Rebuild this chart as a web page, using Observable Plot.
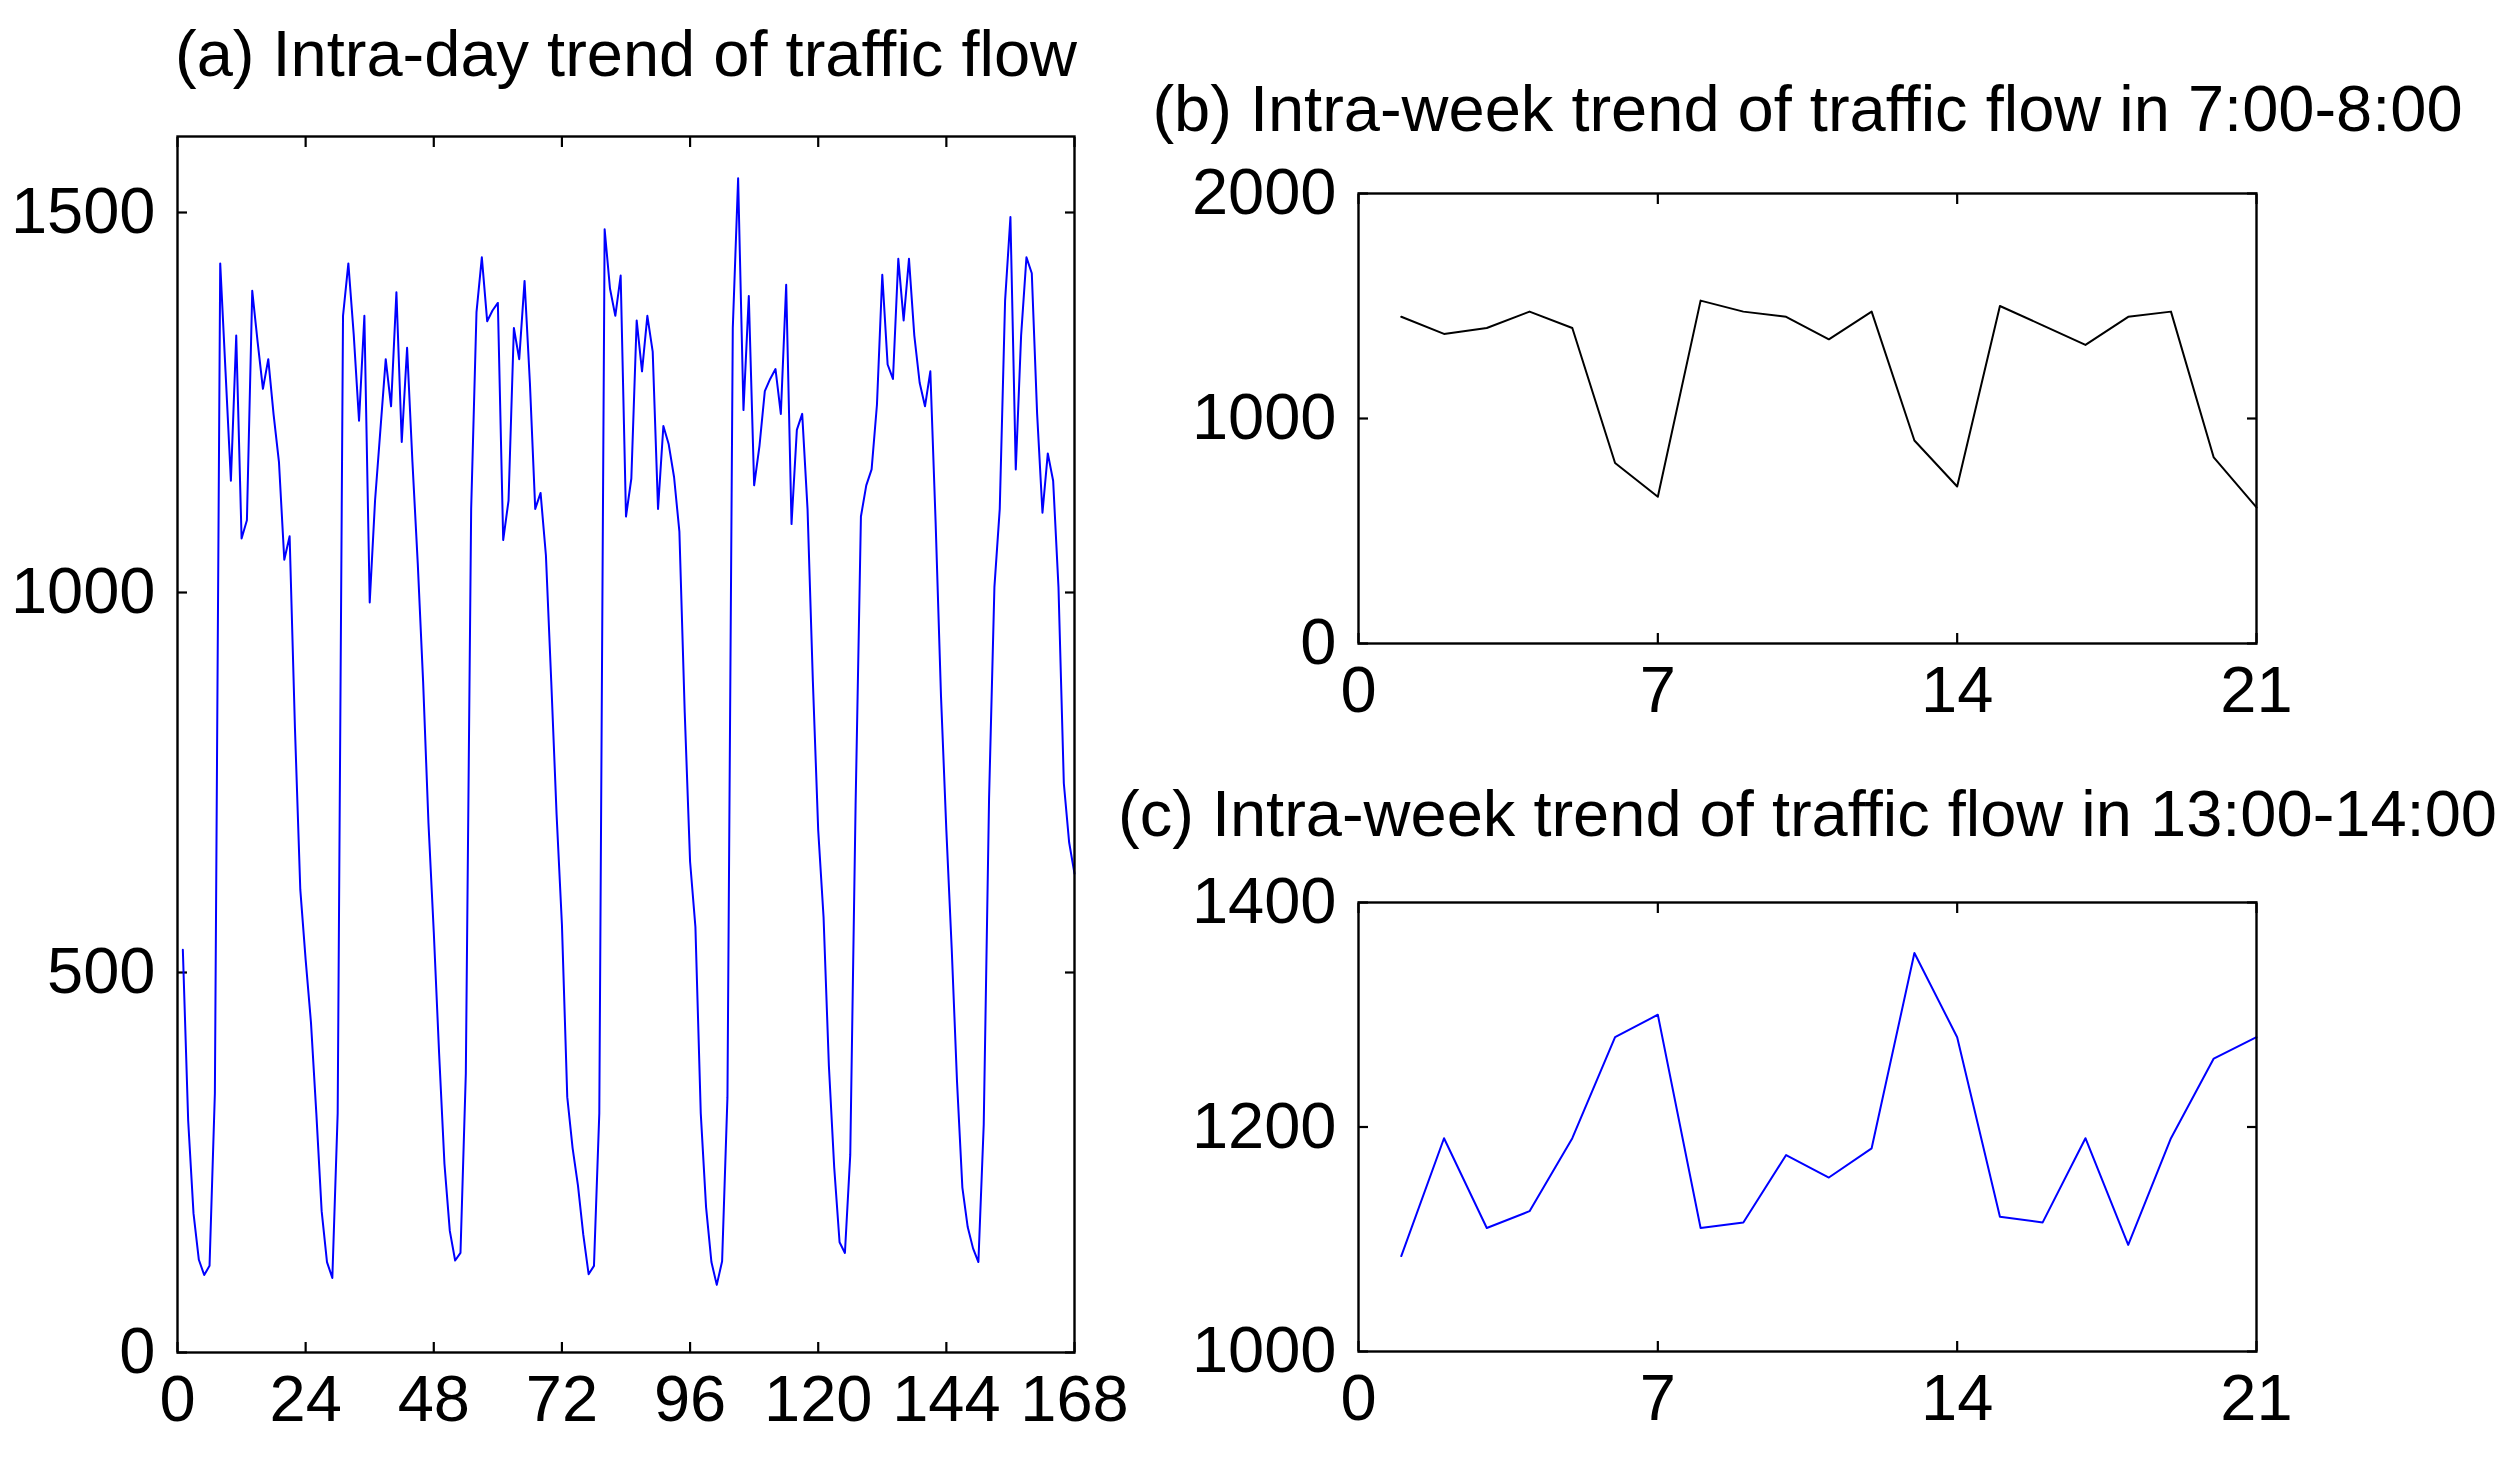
<!DOCTYPE html>
<html>
<head>
<meta charset="utf-8">
<script src="https://cdn.jsdelivr.net/npm/d3@7"></script>
<script src="https://cdn.jsdelivr.net/npm/@observablehq/plot@0.6"></script>
<style>
  html, body { margin: 0; padding: 0; background: #ffffff; }
  #stage { position: relative; width: 2505px; height: 1462px; background: #ffffff; overflow: hidden; }
  #stage > div { position: absolute; }
</style>
</head>
<body>
<div id="stage">
  <div id="pa" style="left:0px; top:0px;"></div>
  <div id="pb" style="left:1168px; top:0px;"></div>
  <div id="pc" style="left:1168px; top:743px;"></div>
</div>
<script>
// ---- Data: hourly traffic flow over one week (hours 1..168), one array per day ----
const day1 = [530, 305, 183, 122, 102, 114, 341, 1433, 1290, 1147, 1338, 1071, 1095, 1397, 1330, 1268, 1307, 1234, 1172, 1043, 1074, 821, 609, 517];
const day2 = [434, 315, 186, 119, 98, 315, 1364, 1433, 1340, 1226, 1364, 987, 1121, 1214, 1307, 1245, 1395, 1198, 1322, 1172, 1038, 883, 697, 553];
const day3 = [393, 248, 160, 121, 131, 367, 1110, 1369, 1441, 1357, 1371, 1381, 1069, 1121, 1348, 1307, 1410, 1276, 1110, 1131, 1049, 883, 708, 563];
const day4 = [336, 269, 220, 155, 103, 114, 315, 1478, 1400, 1364, 1417, 1100, 1150, 1358, 1291, 1364, 1317, 1110, 1219, 1195, 1152, 1080, 842, 646];
const day5 = [560, 315, 191, 119, 89, 120, 336, 1348, 1545, 1240, 1390, 1141, 1193, 1265, 1281, 1294, 1235, 1405, 1090, 1214, 1235, 1110, 883, 687];
const day6 = [573, 377, 243, 145, 131, 260, 720, 1100, 1141, 1162, 1247, 1418, 1300, 1281, 1439, 1358, 1439, 1338, 1276, 1245, 1291, 1090, 863, 687];
const day7 = [532, 356, 217, 165, 137, 119, 300, 730, 1007, 1110, 1384, 1494, 1162, 1338, 1441, 1420, 1235, 1105, 1183, 1147, 1007, 749, 671, 630];

// ---- Data: daily flow over three weeks (days 1..21) ----
const flow7to8 = [1452, 1376, 1402, 1475, 1402, 802, 652, 1524, 1475, 1452, 1352, 1475, 902, 698, 1500, 1414, 1327, 1452, 1475, 827, 605];
const flow13to14 = [1085, 1190, 1110, 1125, 1190, 1280, 1300, 1110, 1115, 1175, 1155, 1181, 1355, 1280, 1120, 1115, 1190, 1095, 1190, 1261, 1280];

// ---- Tick labels ----
const hourTicks = [0, 24, 48, 72, 96, 120, 144, 168];
const flowTicksA = [0, 500, 1000, 1500];
const dayTicks = [0, 7, 14, 21];
const flowTicksB = [0, 1000, 2000];
const flowTicksC = [1000, 1200, 1400];

const titles = [
  "(a) Intra-day trend of traffic flow",
  "(b) Intra-week trend of traffic flow in 7:00-8:00",
  "(c) Intra-week trend of traffic flow in 13:00-14:00"
];

const hourly = [day1, day2, day3, day4, day5, day6, day7].flat().map((v, i) => ({t: i + 1, v}));
const weekB = flow7to8.map((v, i) => ({t: i + 1, v}));
const weekC = flow13to14.map((v, i) => ({t: i + 1, v}));

const FONT = "'Liberation Sans', Arial, Helvetica, sans-serif";
const FS = 65;

function panel({data, color, xDomain, yDomain, xTicks, yTicks, title, width, height, mt, mr, mb, ml, titleDy}) {
  const tick = 10;
  const blank = () => "";
  const plain = (d) => String(d);
  return Plot.plot({
    width, height,
    marginTop: mt, marginRight: mr, marginBottom: mb, marginLeft: ml,
    style: {background: "transparent", overflow: "visible", fontFamily: FONT, fontSize: FS + "px", color: "#000"},
    x: {domain: xDomain},
    y: {domain: yDomain},
    marks: [
      // tick labels
      Plot.axisX(xTicks, {anchor: "bottom", tickSize: 0, tickPadding: 22, tickFormat: plain, label: null, fontSize: FS, fill: "#000"}),
      Plot.axisY(yTicks, {anchor: "left", tickSize: 0, tickPadding: 22, tickFormat: plain, label: null, fontSize: FS, fill: "#000"}),
      // inward ticks on all four sides
      Plot.axisX(xTicks, {anchor: "bottom", tickSize: tick, dy: -tick, tickFormat: blank, label: null, strokeWidth: 2.2, stroke: "#000"}),
      Plot.axisX(xTicks, {anchor: "top", tickSize: tick, dy: tick, tickFormat: blank, label: null, strokeWidth: 2.2, stroke: "#000"}),
      Plot.axisY(yTicks, {anchor: "left", tickSize: tick, dx: tick, tickFormat: blank, label: null, strokeWidth: 2.2, stroke: "#000"}),
      Plot.axisY(yTicks, {anchor: "right", tickSize: tick, dx: -tick, tickFormat: blank, label: null, strokeWidth: 2.2, stroke: "#000"}),
      Plot.line(data, {x: "t", y: "v", stroke: color, strokeWidth: 2}),
      Plot.frame({stroke: "#000", strokeWidth: 2.4}),
      Plot.text([title], {frameAnchor: "top", dy: titleDy, lineAnchor: "bottom", fontSize: FS, fill: "#000", fontFamily: FONT})
    ]
  });
}

document.getElementById("pa").append(panel({
  data: hourly, color: "#0000ff",
  xDomain: [0, 168], yDomain: [0, 1600],
  xTicks: hourTicks, yTicks: flowTicksA, title: titles[0],
  width: 1171, height: 1462, mt: 136, mr: 97, mb: 110, ml: 177, titleDy: -61
}));

document.getElementById("pb").append(panel({
  data: weekB, color: "#000000",
  xDomain: [0, 21], yDomain: [0, 2000],
  xTicks: dayTicks, yTicks: flowTicksB, title: titles[1],
  width: 1337, height: 743, mt: 193, mr: 249, mb: 100, ml: 190, titleDy: -63
}));

document.getElementById("pc").append(panel({
  data: weekC, color: "#0000ff",
  xDomain: [0, 21], yDomain: [1000, 1400],
  xTicks: dayTicks, yTicks: flowTicksC, title: titles[2],
  width: 1337, height: 719, mt: 159, mr: 249, mb: 111, ml: 190, titleDy: -67
}));
</script>
</body>
</html>
